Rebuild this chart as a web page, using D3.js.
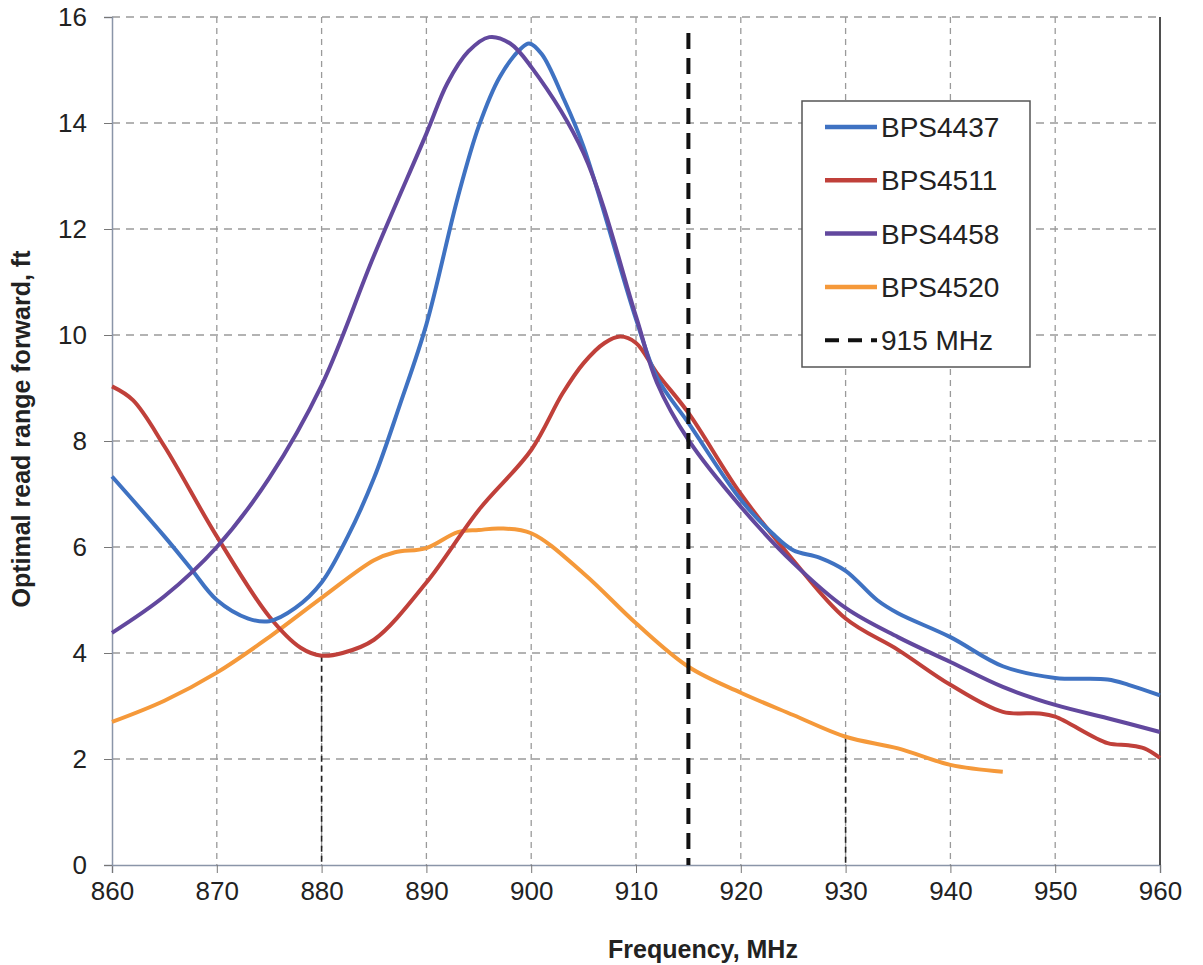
<!DOCTYPE html>
<html>
<head>
<meta charset="utf-8">
<script src="https://cdn.jsdelivr.net/npm/d3@7"></script>
<style>
  body { margin: 0; background: #fff; }
  text { font-family: "Liberation Sans", Arial, sans-serif; fill: #222; }
</style>
</head>
<body>
<script>
// series values: [MHz, ft]
var bps4437 = [[860,7.33],[865,6.2],[867.5,5.6],[870,5.0],[873,4.65],[875,4.6],[877.5,4.85],[880,5.33],[882.5,6.2],[885,7.3],[887.5,8.7],[890,10.2],[893,12.6],[895,13.94],[897,14.87],[899,15.4],[899.8,15.5],[901,15.3],[903,14.5],[905,13.55],[910,10.3],[912,9.2],[915,8.34],[920,6.89],[923,6.26],[925,5.94],[927.5,5.8],[930,5.55],[933,5.0],[935,4.75],[940,4.3],[945,3.75],[950,3.53],[955,3.5],[957,3.4],[960,3.2]];
var bps4511 = [[860,9.03],[862,8.77],[865,7.9],[870,6.2],[875,4.69],[878,4.1],[880,3.95],[882,4.0],[885,4.25],[890,5.33],[895,6.7],[900,7.83],[903,8.9],[905,9.47],[907,9.85],[908.5,9.97],[910,9.85],[912,9.28],[915,8.53],[920,7.0],[925,5.75],[930,4.65],[935,4.06],[940,3.4],[945,2.89],[948.5,2.86],[950,2.8],[955,2.3],[957,2.26],[958.5,2.2],[960,2.02]];
var bps4458 = [[860,4.38],[865,5.07],[870,6.0],[875,7.3],[880,9.05],[885,11.5],[890,13.8],[892,14.75],[894,15.35],[896,15.62],[898,15.5],[900,15.06],[905,13.43],[910,10.35],[912,9.1],[915,8.02],[920,6.76],[925,5.7],[930,4.85],[935,4.3],[940,3.83],[945,3.36],[950,3.02],[955,2.77],[960,2.51]];
var bps4520 = [[860,2.7],[865,3.1],[870,3.63],[875,4.3],[880,5.04],[885,5.75],[887,5.9],[890,5.98],[893,6.28],[895,6.32],[897,6.35],[900,6.26],[905,5.5],[910,4.56],[915,3.74],[920,3.25],[925,2.83],[930,2.42],[935,2.2],[940,1.89],[945,1.76]];

var seriesNames  = ['BPS4437', 'BPS4511', 'BPS4458', 'BPS4520'];
var seriesColors = ['#3f72c2', '#c0403a', '#62489e', '#f5993a'];
var markerFreq   = 915;
var markerLabel  = '915 MHz';
var dropLines    = [[880, 3.95], [930, 2.42]];

var xTicks = d3.range(860, 961, 10);
var yTicks = d3.range(0, 17, 2);

// layout
var margin = { top: 17, right: 43, bottom: 100, left: 112 },
    width  = 1203 - margin.left - margin.right,
    height = 965 - margin.top - margin.bottom;

var xScale = d3.scaleLinear().domain([860, 960]).range([0, width]);
var yScale = d3.scaleLinear().domain([0, 16]).range([height, 0]);

var svg = d3.select('body').append('svg')
    .attr('width', 1203)
    .attr('height', 965)
    .append('g')
    .attr('transform', 'translate(' + margin.left + ',' + margin.top + ')');

// grid
svg.selectAll('.vgrid').data(xTicks.slice(1, -1)).enter().append('line')
    .attr('x1', function(d) { return xScale(d); })
    .attr('x2', function(d) { return xScale(d); })
    .attr('y1', 0).attr('y2', height)
    .attr('stroke', '#9a9a9a').attr('stroke-width', 1.3).attr('stroke-dasharray', '6,5');
svg.selectAll('.hgrid').data(yTicks.slice(1)).enter().append('line')
    .attr('x1', 0).attr('x2', width)
    .attr('y1', function(d) { return yScale(d); })
    .attr('y2', function(d) { return yScale(d); })
    .attr('stroke', '#9a9a9a').attr('stroke-width', 1.3).attr('stroke-dasharray', '8,6');

// darker drop lines
svg.selectAll('.drop').data(dropLines).enter().append('line')
    .attr('x1', function(d) { return xScale(d[0]); })
    .attr('x2', function(d) { return xScale(d[0]); })
    .attr('y1', function(d) { return yScale(d[1]); })
    .attr('y2', height)
    .attr('stroke', '#222').attr('stroke-width', 1.6).attr('stroke-dasharray', '6,4');

// axes
var xAxis = svg.append('g')
    .attr('transform', 'translate(0,' + height + ')')
    .call(d3.axisBottom(xScale).tickValues(xTicks).tickSize(8).tickPadding(9));
var yAxis = svg.append('g')
    .call(d3.axisLeft(yScale).tickValues(yTicks).tickSize(8).tickPadding(17));
[xAxis, yAxis].forEach(function(a) {
    a.selectAll('text').style('font-size', '26px').attr('fill', '#222');
    a.selectAll('line').attr('stroke', '#777');
    a.select('.domain').attr('stroke', '#8a95a8').attr('stroke-width', 1.5);
});
// right border
svg.append('line')
    .attr('x1', width).attr('x2', width).attr('y1', 0).attr('y2', height)
    .attr('stroke', '#222').attr('stroke-width', 1.6);

// series
var line = d3.line()
    .x(function(d) { return xScale(d[0]); })
    .y(function(d) { return yScale(d[1]); })
    .curve(d3.curveCatmullRom.alpha(0.5));
var seriesData = [bps4437, bps4511, bps4458, bps4520];
// draw in an order so purple sits over blue near the peak
[3, 1, 0, 2].forEach(function(i) {
    svg.append('path')
        .datum(seriesData[i])
        .attr('d', line)
        .attr('fill', 'none')
        .attr('stroke', seriesColors[i])
        .attr('stroke-width', 4)
        .attr('stroke-linejoin', 'round');
});

// 915 MHz marker
svg.append('line')
    .attr('x1', xScale(markerFreq)).attr('x2', xScale(markerFreq))
    .attr('y1', yScale(15.7)).attr('y2', height)
    .attr('stroke', '#111').attr('stroke-width', 4).attr('stroke-dasharray', '16,9');

// axis titles
svg.append('text')
    .attr('x', width / 2 + 67).attr('y', height + 93)
    .attr('text-anchor', 'middle')
    .style('font-size', '25px').style('font-weight', 'bold')
    .attr('fill', '#333')
    .text('Frequency, MHz');
svg.append('text')
    .attr('transform', 'translate(' + (-margin.left + 30) + ',' + (429 - margin.top) + ') rotate(-90)')
    .attr('text-anchor', 'middle')
    .style('font-size', '25px').style('font-weight', 'bold')
    .attr('fill', '#333')
    .text('Optimal read range forward, ft');

// legend
var lg = svg.append('g').attr('transform', 'translate(' + (802 - margin.left) + ',' + (101 - margin.top) + ')');
lg.append('rect')
    .attr('width', 228).attr('height', 266)
    .attr('fill', '#fff').attr('stroke', '#555').attr('stroke-width', 1.5);
var items = seriesNames.map(function(n, i) { return { name: n, color: seriesColors[i], dash: null }; });
items.push({ name: markerLabel, color: '#111', dash: '14,9' });
var rows = lg.selectAll('.item').data(items).enter().append('g')
    .attr('transform', function(d, i) { return 'translate(0,' + (26 + i * 53.3) + ')'; });
rows.append('line')
    .attr('x1', 23).attr('x2', 75)
    .attr('stroke', function(d) { return d.color; })
    .attr('stroke-width', function(d) { return d.dash ? 4 : 4.5; })
    .attr('stroke-dasharray', function(d) { return d.dash; });
rows.append('text')
    .attr('x', 79).attr('dy', '0.36em')
    .style('font-size', '28px')
    .text(function(d) { return d.name; });
</script>
</body>
</html>
